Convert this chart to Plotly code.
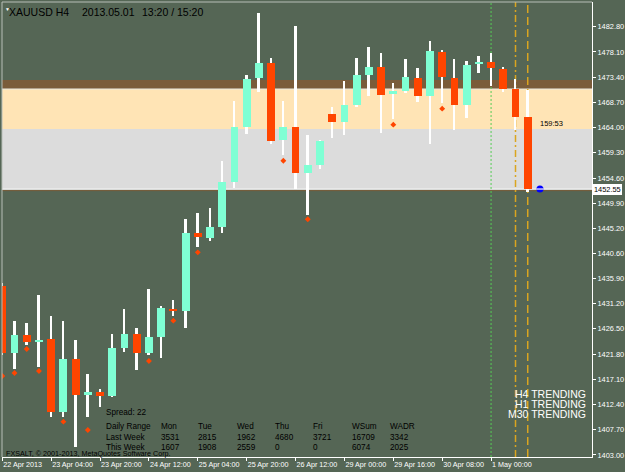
import plotly.graph_objects as go

# ---------------- data ----------------
opens = [1434.49, 1422.06, 1425.35, 1424.05, 1424.61, 1410.95, 1420.88, 1414.17, 1414.68, 1413.99,
         1422.88, 1425.54, 1421.94, 1425.04, 1430.26, 1429.83, 1444.30, 1443.48, 1445.53, 1453.86,
         1464.06, 1473.19, 1476.09, 1461.69, 1464.06, 1455.48, 1457.03, 1466.48, 1465.10, 1468.30,
         1473.80, 1475.23, 1470.20, 1470.87, 1473.19, 1469.94, 1478.09, 1473.19, 1468.21, 1475.76,
         1476.22, 1474.86, 1471.14, 1466.03]
highs = [1435.00, 1427.96, 1427.59, 1432.81, 1428.89, 1427.96, 1424.42, 1418.09, 1415.35, 1425.49,
         1430.14, 1426.71, 1433.87, 1430.81, 1431.88, 1446.91, 1448.03, 1448.96, 1457.83, 1469.01,
         1473.74, 1485.30, 1476.91, 1468.96, 1482.99, 1462.62, 1461.69, 1467.89, 1472.68, 1476.91,
         1478.96, 1477.84, 1472.37, 1476.73, 1475.05, 1480.19, 1478.46, 1476.73, 1476.46, 1477.34,
         1477.96, 1475.35, 1473.00, 1471.01]
lows = [1421.60, 1419.02, 1423.49, 1419.45, 1410.13, 1410.13, 1404.49, 1410.13, 1411.88, 1413.86,
        1422.24, 1418.83, 1421.63, 1421.01, 1428.89, 1426.71, 1441.81, 1442.93, 1444.30, 1452.80,
        1462.81, 1470.69, 1460.89, 1458.89, 1452.56, 1447.71, 1456.23, 1462.01, 1462.62, 1467.78,
        1469.89, 1462.94, 1465.55, 1470.50, 1468.71, 1460.89, 1468.53, 1463.55, 1465.73, 1474.23,
        1471.69, 1470.69, 1463.55, 1452.00]
closes = [1422.06, 1425.35, 1424.11, 1424.42, 1411.06, 1420.88, 1414.17, 1414.68, 1414.04, 1422.88,
          1425.54, 1421.94, 1425.04, 1430.33, 1429.88, 1444.30, 1443.56, 1445.42, 1453.86, 1464.17,
          1473.11, 1475.98, 1461.56, 1464.06, 1455.48, 1457.03, 1461.50, 1465.10, 1468.21, 1473.80,
          1475.23, 1470.07, 1470.82, 1473.43, 1469.94, 1478.27, 1473.37, 1468.21, 1475.66, 1476.22,
          1475.05, 1471.14, 1466.03, 1452.55]

dot_bars = [0, 1, 2, 3, 5, 7, 12, 14, 16, 23, 25, 32, 36]
dot_prices = [1417.71, 1418.27, 1422.75, 1418.65, 1409.20, 1407.65, 1420.51, 1428.02,
              1440.76, 1457.83, 1446.91, 1464.54, 1467.52]

x_tick_bars = [0, 4, 8, 12, 16, 20, 24, 28, 32, 36, 40]
x_tick_labels = ["22 Apr 2013", "23 Apr 04:00", "23 Apr 20:00", "24 Apr 12:00", "25 Apr 04:00",
                 "25 Apr 20:00", "26 Apr 12:00", "29 Apr 00:00", "29 Apr 16:00", "30 Apr 08:00",
                 "1 May 00:00"]
y_tick_vals = [1482.80, 1478.10, 1473.40, 1468.70, 1464.00, 1459.30, 1454.60, 1449.90, 1445.20,
               1440.60, 1435.90, 1431.20, 1426.50, 1421.80, 1417.10, 1412.40, 1407.70, 1403.00]

zone_brown = [1471.19, 1472.87]
zone_peach = [1463.74, 1471.19]
zone_gray = [1452.40, 1463.74]
current_price = 1452.55
bar_timer = "159:53"
day_open_bar = 40
marker_bars = [42, 43]

symbol = "XAUUSD H4"
date_text = "2013.05.01"
time_text = "13:20 / 15:20"
spread = 22
range_header = ["Daily Range", "Mon", "Tue", "Wed", "Thu", "Fri", "WSum", "WADR"]
last_week = [3531, 2815, 1962, 4680, 3721, 16709, 3342]
this_week = [1607, 1908, 2559, 0, 0, 6074, 2025]
trend_labels = ["H4 TRENDING", "H1 TRENDING", "M30 TRENDING"]
copyright_text = "FXSALT, © 2001-2013, MetaQuotes Software Corp."

# ---------------- styling ----------------
BG = "#556655"
AQUA = "#7FFFD4"
RED = "#FF4500"
W, H = 625, 472
ML, MR, MT, MB = 2, 33, 2, 15
PW, PH = W - ML - MR, H - MT - MB


def px(x):
    return (x - ML) / PW


def py(y):
    return (H - MB - y) / PH


xs = list(range(len(opens)))
fig = go.Figure()

# wicks
fig.add_trace(go.Bar(
    x=xs, base=lows, y=[h - l for h, l in zip(highs, lows)], width=0.16,
    marker=dict(color="white", line=dict(width=0)), hoverinfo="skip", showlegend=False))
# bodies
body_base = [min(o, c) for o, c in zip(opens, closes)]
body_h = [max(abs(c - o), 0.2) for o, c in zip(opens, closes)]
body_col = [AQUA if c >= o else RED for o, c in zip(opens, closes)]
fig.add_trace(go.Bar(
    x=xs, base=body_base, y=body_h, width=0.64,
    marker=dict(color=body_col, line=dict(width=0)), hoverinfo="skip", showlegend=False))
# dots
fig.add_trace(go.Scatter(
    x=dot_bars, y=dot_prices, mode="markers",
    marker=dict(symbol="diamond", size=4.5, color=RED, line=dict(width=0)),
    hoverinfo="skip", showlegend=False))
# current price marker
fig.add_trace(go.Scatter(
    x=[len(opens)], y=[current_price], mode="markers",
    marker=dict(symbol="circle", size=7, color="#0000FF", line=dict(width=0)),
    hoverinfo="skip", showlegend=False))
fig.add_trace(go.Scatter(
    x=[len(opens)], y=[current_price], mode="markers",
    marker=dict(symbol="line-ew", size=5, color="white", line=dict(width=1.2, color="white")),
    hoverinfo="skip", showlegend=False))

shapes = []
for (lo, hi), col in [(zone_brown, "#7A5C3A"), (zone_peach, "#FFE4B5"), (zone_gray, "#DCDCDC")]:
    shapes.append(dict(type="rect", xref="paper", x0=0, x1=1, yref="y", y0=lo, y1=hi,
                       fillcolor=col, line=dict(width=0), layer="below"))
shapes.append(dict(type="line", xref="paper", x0=0, x1=1, yref="y", y0=zone_peach[1], y1=zone_peach[1],
                   line=dict(color="#E8E8E0", width=1), layer="below"))
shapes.append(dict(type="line", xref="paper", x0=0, x1=1, yref="y", y0=zone_gray[0] - 0.15, y1=zone_gray[0] - 0.15,
                   line=dict(color="#7A5C3A", width=1), layer="below"))
shapes.append(dict(type="line", xref="paper", x0=0, x1=1, yref="y", y0=current_price, y1=current_price,
                   line=dict(color="#F4F4F4", width=1), layer="below"))
shapes.append(dict(type="line", xref="x", x0=day_open_bar, x1=day_open_bar, yref="paper", y0=0, y1=1,
                   line=dict(color="#55CC55", width=1, dash="2px,2px"), layer="below"))
shapes.append(dict(type="line", xref="x", x0=marker_bars[0], x1=marker_bars[0], yref="paper", y0=0, y1=1,
                   line=dict(color="#DAA520", width=1.5, dash="7px,3px,2px,3px"), layer="below"))
shapes.append(dict(type="line", xref="x", x0=marker_bars[1], x1=marker_bars[1], yref="paper", y0=0, y1=1,
                   line=dict(color="#DAA520", width=1.5, dash="8px,4px"), layer="below"))
# top / left frame
shapes.append(dict(type="line", xref="paper", yref="paper", x0=0, x1=1, y0=1, y1=1,
                   line=dict(color="#B8BEB8", width=1)))
shapes.append(dict(type="line", xref="paper", yref="paper", x0=0, x1=0, y0=0, y1=1,
                   line=dict(color="#B8BEB8", width=1)))

ann = []


def text(x, y, s, size=8.5, color="black", xanchor="left", family="Liberation Sans"):
    ann.append(dict(xref="paper", yref="paper", x=px(x), y=py(y), text=s, showarrow=False,
                    xanchor=xanchor, yanchor="middle", borderpad=0, borderwidth=0,
                    font=dict(family=family, size=size, color=color)))


text(4.5, 9, "▼", size=5, color="white")
text(9.3, 12, symbol, size=10.5)
text(81.7, 12, date_text, size=10.5)
text(141.7, 12, time_text, size=10.5)
text(540, 123, bar_timer, size=7.5)

col_x = [105.7, 160.7, 198.3, 237, 275.3, 313.3, 351.7, 390]
text(105.7, 412, "Spread: %d" % spread, size=8.2)
for cx, h in zip(col_x, range_header):
    text(cx, 426, h, size=8.2)
text(col_x[0], 437.7, "Last Week", size=8.2)
text(col_x[0], 447, "This Week", size=8.2)
for cx, v1, v2 in zip(col_x[1:], last_week, this_week):
    text(cx, 437.7, str(v1), size=8.2)
    text(cx, 447, str(v2), size=8.2)
text(6, 453, copyright_text, size=7.2)

for i, s in enumerate(trend_labels):
    text(585.5, 394 + 10 * i, s, size=10.5, color="white", xanchor="right")

# current price box on axis
ann.append(dict(xref="paper", yref="y", x=px(593), y=current_price, text="%.2f" % current_price,
                showarrow=False, xanchor="left", yanchor="middle", bgcolor="white",
                borderpad=1, borderwidth=0,
                font=dict(family="Liberation Sans", size=7.4, color="black")))

fig.update_layout(
    width=W, height=H, margin=dict(l=ML, r=MR, t=MT, b=MB, pad=0, autoexpand=False),
    paper_bgcolor=BG, plot_bgcolor=BG, barmode="overlay", bargap=0,
    shapes=shapes, annotations=ann, showlegend=False,
    xaxis=dict(range=[-0.025, 48.26], tickvals=x_tick_bars, ticktext=x_tick_labels,
               tickangle=0, automargin=False,
               ticks="outside", ticklen=3, tickcolor="white", showgrid=False, zeroline=False,
               showline=True, linecolor="white", linewidth=1, ticklabelposition="outside right",
               tickfont=dict(family="Liberation Sans", size=7.2, color="white")),
    yaxis=dict(range=[1402.62, 1487.40], side="right", tickvals=y_tick_vals, automargin=False,
               ticktext=["%.2f" % v for v in y_tick_vals],
               ticks="outside", ticklen=3, tickcolor="white", showgrid=False, zeroline=False,
               showline=True, linecolor="white", linewidth=1,
               tickfont=dict(family="Liberation Sans", size=7.4, color="white")),
)

fig.write_html("out.html")
